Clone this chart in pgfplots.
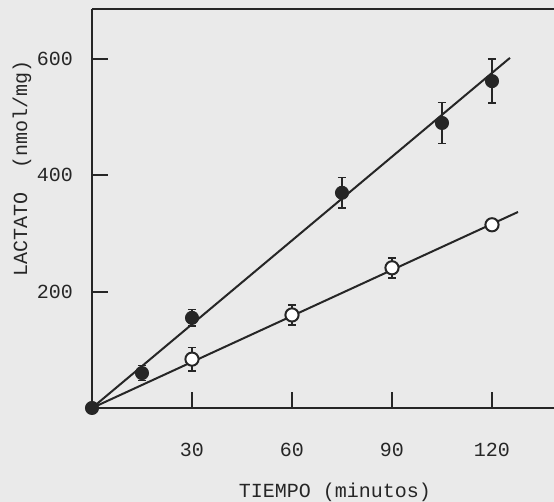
\documentclass[border=0pt]{standalone}
\usepackage{pgfplots}
\pgfplotsset{compat=1.18}
\usepackage{fontspec}
\setmainfont{Liberation Mono}
\definecolor{paper}{HTML}{EAEAEA}
\definecolor{ink}{HTML}{262626}
\pagecolor{paper}
\begin{document}
\begin{tikzpicture}
\begin{axis}[
  width=231pt, height=199.5pt, scale only axis,
  xmin=0, xmax=138.6, ymin=0, ymax=686,
  axis x line*=bottom, axis y line*=left,
  axis line style={line width=1pt, ink},
  xtick={30,60,90,120}, ytick={200,400,600},
  tick align=inside, major tick length=8pt,
  tick style={line width=1pt, ink},
  /pgf/number format/assume math mode=true,
  tick label style={font=\fontsize{10}{12}\selectfont, text=ink},
  x tick label style={yshift=-14pt},
  y tick label style={xshift=-6pt},
  xlabel={TIEMPO (minutos)},
  ylabel={LACTATO\ \ (nmol/mg)},
  label style={font=\fontsize{10}{12}\selectfont, text=ink},
  xlabel style={at={(axis description cs:0.526,-0.2105)}, anchor=center},
  ylabel style={at={(axis description cs:-0.1515,0.6)}, anchor=center},
  clip=false,
]
% regression lines
\addplot[ink, line width=1pt] coordinates {(0,0) (125.4,602)};
\addplot[ink, line width=1pt] coordinates {(0,0) (127.8,337)};

% filled circles
\addplot[ink, only marks, mark=*, mark size=3.3pt,
  error bars/.cd, y dir=both, y explicit,
  error bar style={line width=0.8pt, ink},
  error mark options={rotate=90, mark size=2pt, line width=0.8pt, ink}]
coordinates {
  (0,0) +- (0,0)
  (15,60) +- (0,13)
  (30,155) +- (0,14)
  (75,370) +- (0,26)
  (105,490) +- (0,35)
  (120,562) +- (0,38)
};

% open circles
\addplot[ink, only marks, mark=*, mark size=3.3pt,
  mark options={fill=white, line width=1pt, draw=ink},
  error bars/.cd, y dir=both, y explicit,
  error bar style={line width=0.8pt, ink},
  error mark options={rotate=90, mark size=2pt, line width=0.8pt, ink}]
coordinates {
  (30,84) +- (0,20)
  (60,160) +- (0,17)
  (90,241) +- (0,17)
  (120,315) +- (0,10)
};

\draw[line width=1pt, ink] (rel axis cs:0,1) -- (rel axis cs:1,1);
\coordinate (O) at (rel axis cs:0,0);
\coordinate (T) at (rel axis cs:1,1);
\end{axis}
\pgfresetboundingbox
\path ([shift={(-46pt,-47pt)}]O) rectangle ([shift={(0pt,4.5pt)}]T);
\end{tikzpicture}
\end{document}
